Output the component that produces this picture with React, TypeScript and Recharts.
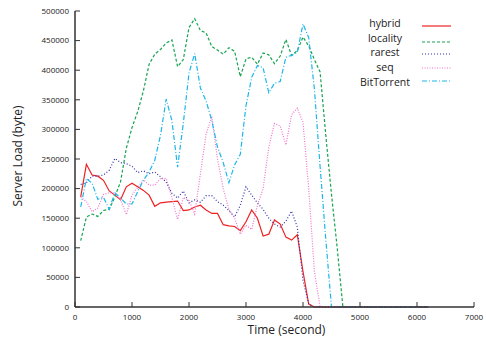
import { Legend, Line, LineChart, XAxis, YAxis } from "recharts";

// sample times in seconds; every series drops to 0 and stays there until 6200
const times = [
  100, 200, 300, 400, 500, 600, 700, 800, 900, 1000,
  1100, 1200, 1300, 1400, 1500, 1600, 1700, 1800, 1900, 2000,
  2100, 2200, 2300, 2400, 2500, 2600, 2700, 2800, 2900, 3000,
  3100, 3200, 3300, 3400, 3500, 3600, 3700, 3800, 3900, 4000,
  4100, 4200, 4300, 4400, 4500, 4600, 4700, 6200,
];

const hybrid = [
  186000, 241000, 223000, 221000, 214000, 196000, 189000, 181000, 203000, 209000,
  203000, 197000, 189000, 170000, 176000, 177000, 178000, 179000, 163000, 164000,
  169000, 172000, 164000, 158000, 158000, 139000, 137000, 136000, 129000, 144000,
  164000, 150000, 120000, 123000, 147000, 140000, 118000, 113000, 122000, 60000,
  5000, 0, 0, 0, 0, 0, 0, 0,
];

const locality = [
  112000, 152000, 157000, 153000, 163000, 165000, 186000, 212000, 268000, 303000,
  330000, 365000, 410000, 427000, 435000, 446000, 451000, 406000, 418000, 472000,
  487000, 467000, 463000, 440000, 434000, 427000, 438000, 432000, 389000, 419000,
  422000, 410000, 429000, 426000, 411000, 424000, 452000, 425000, 433000, 456000,
  441000, 418000, 397000, 290000, 190000, 100000, 0, 0,
];

const rarest = [
  207000, 210000, 221000, 221000, 223000, 231000, 251000, 244000, 242000, 238000,
  227000, 230000, 225000, 228000, 220000, 211000, 192000, 184000, 196000, 176000,
  181000, 177000, 188000, 188000, 178000, 172000, 163000, 152000, 172000, 203000,
  189000, 176000, 165000, 150000, 140000, 135000, 145000, 162000, 135000, 45000,
  5000, 0, 0, 0, 0, 0, 0, 0,
];

const seq = [
  186000, 178000, 161000, 167000, 190000, 193000, 192000, 181000, 156000, 189000,
  202000, 215000, 206000, 206000, 217000, 217000, 185000, 148000, 185000, 180000,
  157000, 225000, 292000, 322000, 250000, 200000, 165000, 150000, 123000, 138000,
  131000, 172000, 200000, 270000, 310000, 306000, 274000, 325000, 336000, 312000,
  200000, 60000, 0, 0, 0, 0, 0, 0,
];

const bitTorrent = [
  169000, 217000, 209000, 182000, 185000, 165000, 193000, 184000, 174000, 174000,
  195000, 214000, 228000, 248000, 290000, 351000, 315000, 236000, 310000, 395000,
  428000, 370000, 348000, 315000, 270000, 244000, 210000, 240000, 258000, 340000,
  388000, 408000, 404000, 362000, 378000, 381000, 422000, 425000, 430000, 478000,
  455000, 368000, 237000, 114000, 0, 0, 0, 0,
];

const xTicks = [0, 1000, 2000, 3000, 4000, 5000, 6000, 7000];
const yTicks = [
  0, 50000, 100000, 150000, 200000, 250000, 300000, 350000, 400000, 450000, 500000,
];

const series = [
  { key: "hybrid", color: "#ee2222", dash: undefined },
  { key: "locality", color: "#16a352", dash: "3 2" },
  { key: "rarest", color: "#3030a8", dash: "1 2" },
  { key: "seq", color: "#f274cc", dash: "1 1.5" },
  { key: "BitTorrent", color: "#1cb6ea", dash: "5 2 1 2" },
];

const data = times.map((t, i) => ({
  t,
  hybrid: hybrid[i],
  locality: locality[i],
  rarest: rarest[i],
  seq: seq[i],
  BitTorrent: bitTorrent[i],
}));

const FONT = "'Open Sans', 'DejaVu Sans', sans-serif";
const AXIS = "#333";

const legendTextTop = [17.5, 32.5, 47, 62, 76.5];
const legendLineY = [26, 41.5, 54, 67.5, 81];

function LegendBox() {
  return (
    <div style={{ position: "relative", width: 486, height: 100, fontFamily: FONT }}>
      {series.map((s, i) => (
        <div key={s.key}>
          <span
            style={{
              position: "absolute",
              left: 340,
              width: 90,
              top: legendTextTop[i],
              textAlign: "center",
              fontSize: 10.5,
              lineHeight: "11px",
              color: "#222",
            }}
          >
            {s.key}
          </span>
          <svg
            style={{ position: "absolute", left: 420, top: legendLineY[i] - 3 }}
            width={34}
            height={6}
          >
            <line
              x1={2}
              x2={31}
              y1={3}
              y2={3}
              stroke={s.color}
              strokeWidth={1.2}
              strokeDasharray={s.dash}
            />
          </svg>
        </div>
      ))}
    </div>
  );
}

export default function App() {
  return (
    <div style={{ position: "absolute", left: 0, top: 0, background: "#fff" }}>
      <LineChart
        width={486}
        height={339}
        data={data}
        margin={{ top: 11, right: 12, left: 0, bottom: 0 }}
        style={{ fontFamily: FONT }}
      >
        <XAxis
          dataKey="t"
          type="number"
          domain={[0, 7000]}
          ticks={xTicks}
          interval={0}
          height={32}
          tickSize={-5}
          tickMargin={12}
          stroke={AXIS}
          axisLine={{ stroke: AXIS, strokeWidth: 1.5 }}
          tick={{ fontSize: 8, fill: "#222" }}
          label={{
            value: "Time (second)",
            position: "insideBottom",
            offset: 5,
            dx: 12,
            style: { fontSize: 12, fill: "#222" },
          }}
        />
        <XAxis
          xAxisId="top"
          orientation="top"
          type="number"
          domain={[0, 7000]}
          ticks={xTicks}
          interval={0}
          height={0}
          tickSize={-5}
          stroke={AXIS}
          axisLine={{ stroke: AXIS, strokeWidth: 1.5 }}
          tick={false}
        />
        <YAxis
          type="number"
          domain={[0, 500000]}
          ticks={yTicks}
          interval={0}
          width={75}
          tickSize={-5}
          tickMargin={11}
          stroke={AXIS}
          axisLine={{ stroke: AXIS, strokeWidth: 1.5 }}
          tick={{ fontSize: 8, fill: "#222" }}
          label={{
            value: "Server Load (byte)",
            angle: -90,
            position: "insideLeft",
            offset: 18,
            dy: -3,
            style: { fontSize: 12, fill: "#222", textAnchor: "middle" },
          }}
        />
        <YAxis
          yAxisId="right"
          orientation="right"
          type="number"
          domain={[0, 500000]}
          ticks={yTicks}
          interval={0}
          width={0}
          tickSize={-5}
          stroke={AXIS}
          axisLine={{ stroke: AXIS, strokeWidth: 1.5 }}
          tick={false}
        />
        <Legend
          layout="vertical"
          align="center"
          verticalAlign="middle"
          wrapperStyle={{ left: 0, top: 0, width: 486, margin: 0, padding: 0 }}
          content={() => <LegendBox />}
        />
        {series.map((s) => (
          <Line
            key={s.key}
            type="linear"
            dataKey={s.key}
            stroke={s.color}
            strokeWidth={1.2}
            strokeDasharray={s.dash}
            dot={false}
            isAnimationActive={false}
          />
        ))}
      </LineChart>
    </div>
  );
}
